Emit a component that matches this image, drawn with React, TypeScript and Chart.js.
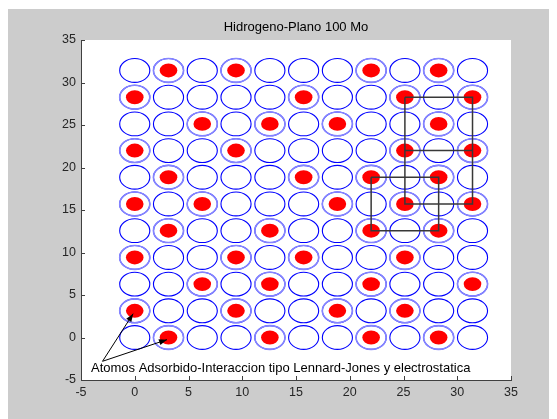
import React, { useEffect, useRef } from "react";
import { Chart, registerables } from "chart.js";

Chart.register(...registerables);

// Lattice site coordinates (same along x and y)
const GRID_POS = [0, 3.14, 6.28, 9.42, 12.57, 15.71, 18.85, 21.99, 25.13, 28.27, 31.42];

// Adsorbed atoms, listed row by row (top row first)
const ADS_ROW_Y = [31.42, 28.27, 25.13, 21.99, 18.85, 15.71, 12.57, 9.42, 6.28, 3.14, 0];
const ADS_ROW_X = [
  [3.14, 9.42, 21.99, 28.27],
  [0, 15.71, 25.13, 31.42],
  [6.28, 12.57, 18.85, 28.27],
  [0, 9.42, 25.13, 31.42],
  [3.14, 15.71, 21.99, 28.27],
  [0, 6.28, 18.85, 25.13, 31.42],
  [3.14, 12.57, 21.99, 28.27],
  [0, 9.42, 15.71, 25.13],
  [6.28, 12.57, 21.99, 31.42],
  [0, 9.42, 18.85, 25.13],
  [3.14, 12.57, 21.99, 28.27],
];

// Unit cells outlined in black
const CELL_A_X = [25.13, 31.42, 31.42, 25.13, 25.13];
const CELL_A_Y = [28.27, 28.27, 15.71, 15.71, 28.27];
const CELL_A_MID_X = [25.13, 31.42];
const CELL_A_MID_Y = [21.99, 21.99];
const CELL_B_X = [21.99, 28.27, 28.27, 21.99, 21.99];
const CELL_B_Y = [18.85, 18.85, 12.57, 12.57, 18.85];

// Annotation: text anchor and arrows
const NOTE_TEXT = "Atomos Adsorbido-Interaccion tipo Lennard-Jones y electrostatica";
const NOTE_POS = { x: -4.07, y: -3.6 };
const ARROW_TAIL = { x: -3.0, y: -2.8 };
const ARROW_HEAD_X = [-0.15, 3.0];
const ARROW_HEAD_Y = [2.8, -0.25];

const TICKS = [-5, 0, 5, 10, 15, 20, 25, 30, 35];
const TITLE = "Hidrogeno-Plano 100 Mo";

const FONT = '"Liberation Sans", Arial, Helvetica, sans-serif';

const zip = (xs: number[], ys: number[]) => xs.map((x, i) => ({ x, y: ys[i] }));

const latticeDecor = {
  id: "latticeDecor",
  beforeDraw(chart: any) {
    const { ctx, chartArea: a, width, height } = chart;
    ctx.save();
    ctx.fillStyle = "#cccccc";
    ctx.fillRect(0, 0, width, height);
    ctx.fillStyle = "#ffffff";
    ctx.fillRect(a.left, a.top, a.right - a.left, a.bottom - a.top);
    ctx.restore();
  },
  beforeDatasetsDraw(chart: any) {
    const { ctx } = chart;
    const xs = chart.scales.x;
    const ys = chart.scales.y;
    const pxX = Math.abs(xs.getPixelForValue(1) - xs.getPixelForValue(0));
    const pxY = Math.abs(ys.getPixelForValue(1) - ys.getPixelForValue(0));
    ctx.save();
    chart.data.datasets.forEach((ds: any, i: number) => {
      const e = ds.ellipse;
      if (!e) return;
      const meta = chart.getDatasetMeta(i);
      meta.data.forEach((el: any) => {
        ctx.beginPath();
        ctx.ellipse(el.x, el.y, e.r * pxX, e.r * pxY, 0, 0, Math.PI * 2);
        if (e.fill) {
          ctx.fillStyle = e.fill;
          ctx.fill();
        }
        if (e.stroke) {
          ctx.strokeStyle = e.stroke;
          ctx.lineWidth = e.lineWidth;
          ctx.stroke();
        }
      });
    });
    ctx.restore();
  },
  afterDraw(chart: any) {
    const { ctx, chartArea: a } = chart;
    const xs = chart.scales.x;
    const ys = chart.scales.y;
    ctx.save();
    // inward tick marks
    ctx.strokeStyle = "#404040";
    ctx.lineWidth = 1;
    ctx.beginPath();
    TICKS.forEach((t) => {
      const px = Math.round(xs.getPixelForValue(t)) + 0.5;
      ctx.moveTo(px, a.bottom);
      ctx.lineTo(px, a.bottom - 4);
      const py = Math.round(ys.getPixelForValue(t)) + 0.5;
      ctx.moveTo(a.left, py);
      ctx.lineTo(a.left + 4, py);
    });
    ctx.stroke();

    // arrows
    const tx = xs.getPixelForValue(ARROW_TAIL.x);
    const ty = ys.getPixelForValue(ARROW_TAIL.y);
    ctx.strokeStyle = "#000000";
    ctx.fillStyle = "#000000";
    ctx.lineWidth = 1;
    ARROW_HEAD_X.forEach((hxv, i) => {
      const hx = xs.getPixelForValue(hxv);
      const hy = ys.getPixelForValue(ARROW_HEAD_Y[i]);
      ctx.beginPath();
      ctx.moveTo(tx, ty);
      ctx.lineTo(hx, hy);
      ctx.stroke();
      const ang = Math.atan2(hy - ty, hx - tx);
      const L = 8;
      const W = 3;
      const bx = hx - L * Math.cos(ang);
      const by = hy - L * Math.sin(ang);
      ctx.beginPath();
      ctx.moveTo(hx, hy);
      ctx.lineTo(bx + W * Math.sin(ang), by - W * Math.cos(ang));
      ctx.lineTo(bx - W * Math.sin(ang), by + W * Math.cos(ang));
      ctx.closePath();
      ctx.fill();
    });

    // annotation text
    ctx.font = `13px ${FONT}`;
    ctx.textBaseline = "middle";
    ctx.textAlign = "left";
    ctx.fillStyle = "#000000";
    ctx.fillText(NOTE_TEXT, xs.getPixelForValue(NOTE_POS.x), ys.getPixelForValue(NOTE_POS.y));
    ctx.restore();
  },
};

export default function App() {
  const ref = useRef<HTMLCanvasElement | null>(null);

  useEffect(() => {
    if (!ref.current) return;
    const sites = GRID_POS.flatMap((y) => GRID_POS.map((x) => ({ x, y })));
    const adsorbed = ADS_ROW_Y.flatMap((y, i) => ADS_ROW_X[i].map((x) => ({ x, y })));
    const lineStyle = {
      type: "scatter" as const,
      showLine: true,
      pointRadius: 0,
      borderColor: "#383838",
      borderWidth: 1.5,
      fill: false,
    };
    const chart = new Chart(ref.current, {
      type: "scatter",
      data: {
        datasets: [
          { label: "Sitios", data: sites, pointRadius: 0, ellipse: { r: 1.4, stroke: "#0000ff", lineWidth: 1.1 } } as any,
          { label: "Sitios ocupados", data: adsorbed, pointRadius: 0, ellipse: { r: 1.4, stroke: "#8585ff", lineWidth: 1.6 } } as any,
          { label: "Atomos adsorbidos", data: adsorbed, pointRadius: 0, ellipse: { r: 0.82, fill: "#ff0000" } } as any,
          { ...lineStyle, label: "Celda A", data: zip(CELL_A_X, CELL_A_Y) },
          { ...lineStyle, label: "Celda A (centro)", data: zip(CELL_A_MID_X, CELL_A_MID_Y) },
          { ...lineStyle, label: "Celda B", data: zip(CELL_B_X, CELL_B_Y) },
        ],
      },
      options: {
        animation: false,
        responsive: false,
        events: [],
        layout: { padding: { left: 0, right: 46, top: 0, bottom: 0 } },
        plugins: {
          legend: { display: false },
          tooltip: { enabled: false },
          title: {
            display: true,
            fullSize: false,
            text: TITLE,
            color: "#000000",
            font: { family: FONT, size: 13, weight: "normal", lineHeight: "14px" },
            padding: { top: 11, bottom: 6 },
          },
        },
        scales: {
          x: {
            type: "linear",
            min: -5,
            max: 35,
            afterFit: (s: any) => {
              s.height = 39;
            },
            ticks: { stepSize: 5, autoSkip: false, color: "#262626", padding: 5, font: { family: FONT, size: 12.5 } },
            grid: { display: true, drawOnChartArea: false, drawTicks: false },
            border: { display: true, color: "#404040", width: 1 },
          },
          y: {
            type: "linear",
            min: -5,
            max: 35,
            afterFit: (s: any) => {
              s.width = 73;
            },
            ticks: { stepSize: 5, autoSkip: false, color: "#262626", padding: 5, font: { family: FONT, size: 12.5 } },
            grid: { display: true, drawOnChartArea: false, drawTicks: false },
            border: { display: true, color: "#404040", width: 1 },
          },
        },
      },
      plugins: [latticeDecor],
    } as any);
    return () => chart.destroy();
  }, []);

  return (
    <canvas
      ref={ref}
      width={549}
      height={410}
      style={{ display: "block", width: 549, height: 410, marginTop: 1 }}
    />
  );
}
